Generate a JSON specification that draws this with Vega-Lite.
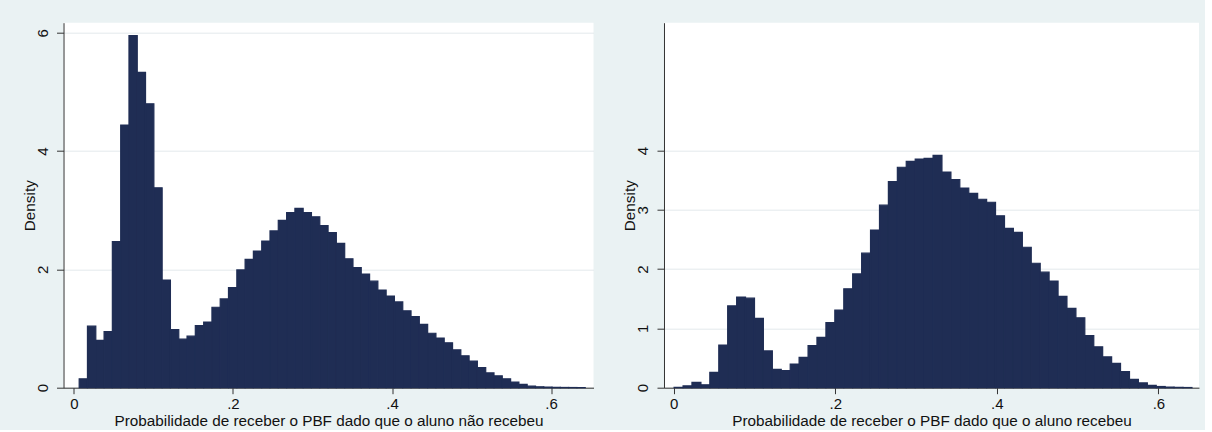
{
  "$schema": "https://vega.github.io/schema/vega-lite/v6.json",
  "background": "#eaf2f3",
  "padding": {"left": 21.5, "top": 22.7, "right": 5, "bottom": 0},
  "config": {
    "font": "Liberation Sans",
    "view": {"fill": "white", "stroke": null},
    "axis": {
      "labelFontSize": 15, "titleFontSize": 15.3, "labelColor": "#111", "titleColor": "#111",
      "titleFontWeight": "normal", "domainColor": "#333", "tickColor": "#333",
      "gridColor": "#e4e9ec", "gridWidth": 1, "labelFont": "Liberation Sans", "titleFont": "Liberation Sans"
    },
    "concat": {"spacing": 28.5}
  },
  "datasets": {
    "left": [
      {"x0": 0.0067, "x1": 0.0171, "d": 0.15},
      {"x0": 0.0171, "x1": 0.0276, "d": 1.04},
      {"x0": 0.0276, "x1": 0.0380, "d": 0.80},
      {"x0": 0.0380, "x1": 0.0484, "d": 0.95},
      {"x0": 0.0484, "x1": 0.0589, "d": 2.47},
      {"x0": 0.0589, "x1": 0.0693, "d": 4.44},
      {"x0": 0.0693, "x1": 0.0797, "d": 5.95},
      {"x0": 0.0797, "x1": 0.0901, "d": 5.33},
      {"x0": 0.0901, "x1": 0.1006, "d": 4.80},
      {"x0": 0.1006, "x1": 0.1110, "d": 3.38},
      {"x0": 0.1110, "x1": 0.1214, "d": 1.82},
      {"x0": 0.1214, "x1": 0.1319, "d": 0.98},
      {"x0": 0.1319, "x1": 0.1423, "d": 0.82},
      {"x0": 0.1423, "x1": 0.1527, "d": 0.87},
      {"x0": 0.1527, "x1": 0.1632, "d": 1.05},
      {"x0": 0.1632, "x1": 0.1736, "d": 1.11},
      {"x0": 0.1736, "x1": 0.1840, "d": 1.36},
      {"x0": 0.1840, "x1": 0.1944, "d": 1.50},
      {"x0": 0.1944, "x1": 0.2049, "d": 1.69},
      {"x0": 0.2049, "x1": 0.2153, "d": 1.99},
      {"x0": 0.2153, "x1": 0.2257, "d": 2.17},
      {"x0": 0.2257, "x1": 0.2362, "d": 2.31},
      {"x0": 0.2362, "x1": 0.2466, "d": 2.48},
      {"x0": 0.2466, "x1": 0.2570, "d": 2.65},
      {"x0": 0.2570, "x1": 0.2675, "d": 2.83},
      {"x0": 0.2675, "x1": 0.2779, "d": 2.96},
      {"x0": 0.2779, "x1": 0.2883, "d": 3.03},
      {"x0": 0.2883, "x1": 0.2987, "d": 2.96},
      {"x0": 0.2987, "x1": 0.3092, "d": 2.89},
      {"x0": 0.3092, "x1": 0.3196, "d": 2.74},
      {"x0": 0.3196, "x1": 0.3300, "d": 2.62},
      {"x0": 0.3300, "x1": 0.3405, "d": 2.44},
      {"x0": 0.3405, "x1": 0.3509, "d": 2.18},
      {"x0": 0.3509, "x1": 0.3613, "d": 2.03},
      {"x0": 0.3613, "x1": 0.3718, "d": 1.92},
      {"x0": 0.3718, "x1": 0.3822, "d": 1.80},
      {"x0": 0.3822, "x1": 0.3926, "d": 1.65},
      {"x0": 0.3926, "x1": 0.4030, "d": 1.55},
      {"x0": 0.4030, "x1": 0.4135, "d": 1.45},
      {"x0": 0.4135, "x1": 0.4239, "d": 1.30},
      {"x0": 0.4239, "x1": 0.4343, "d": 1.20},
      {"x0": 0.4343, "x1": 0.4448, "d": 1.07},
      {"x0": 0.4448, "x1": 0.4552, "d": 0.92},
      {"x0": 0.4552, "x1": 0.4656, "d": 0.84},
      {"x0": 0.4656, "x1": 0.4761, "d": 0.76},
      {"x0": 0.4761, "x1": 0.4865, "d": 0.64},
      {"x0": 0.4865, "x1": 0.4969, "d": 0.54},
      {"x0": 0.4969, "x1": 0.5073, "d": 0.45},
      {"x0": 0.5073, "x1": 0.5178, "d": 0.34},
      {"x0": 0.5178, "x1": 0.5282, "d": 0.25},
      {"x0": 0.5282, "x1": 0.5386, "d": 0.20},
      {"x0": 0.5386, "x1": 0.5491, "d": 0.15},
      {"x0": 0.5491, "x1": 0.5595, "d": 0.095},
      {"x0": 0.5595, "x1": 0.5699, "d": 0.056},
      {"x0": 0.5699, "x1": 0.5804, "d": 0.027},
      {"x0": 0.5804, "x1": 0.5908, "d": 0.015},
      {"x0": 0.5908, "x1": 0.6012, "d": 0.01},
      {"x0": 0.6012, "x1": 0.6116, "d": 0.006},
      {"x0": 0.6116, "x1": 0.6221, "d": 0.004},
      {"x0": 0.6221, "x1": 0.6325, "d": 0.003},
      {"x0": 0.6325, "x1": 0.6429, "d": 0.002}
    ],
    "right": [
      {"x0": 0.0006, "x1": 0.0117, "d": 0.005},
      {"x0": 0.0117, "x1": 0.0227, "d": 0.03},
      {"x0": 0.0227, "x1": 0.0338, "d": 0.09},
      {"x0": 0.0338, "x1": 0.0448, "d": 0.05},
      {"x0": 0.0448, "x1": 0.0559, "d": 0.26},
      {"x0": 0.0559, "x1": 0.0669, "d": 0.72},
      {"x0": 0.0669, "x1": 0.0780, "d": 1.38},
      {"x0": 0.0780, "x1": 0.0890, "d": 1.53},
      {"x0": 0.0890, "x1": 0.1001, "d": 1.51},
      {"x0": 0.1001, "x1": 0.1111, "d": 1.17},
      {"x0": 0.1111, "x1": 0.1222, "d": 0.62},
      {"x0": 0.1222, "x1": 0.1332, "d": 0.31},
      {"x0": 0.1332, "x1": 0.1443, "d": 0.29},
      {"x0": 0.1443, "x1": 0.1553, "d": 0.40},
      {"x0": 0.1553, "x1": 0.1664, "d": 0.51},
      {"x0": 0.1664, "x1": 0.1774, "d": 0.71},
      {"x0": 0.1774, "x1": 0.1885, "d": 0.85},
      {"x0": 0.1885, "x1": 0.1995, "d": 1.10},
      {"x0": 0.1995, "x1": 0.2106, "d": 1.31},
      {"x0": 0.2106, "x1": 0.2216, "d": 1.67},
      {"x0": 0.2216, "x1": 0.2327, "d": 1.92},
      {"x0": 0.2327, "x1": 0.2437, "d": 2.27},
      {"x0": 0.2437, "x1": 0.2548, "d": 2.66},
      {"x0": 0.2548, "x1": 0.2658, "d": 3.08},
      {"x0": 0.2658, "x1": 0.2769, "d": 3.48},
      {"x0": 0.2769, "x1": 0.2879, "d": 3.72},
      {"x0": 0.2879, "x1": 0.2990, "d": 3.82},
      {"x0": 0.2990, "x1": 0.3100, "d": 3.86},
      {"x0": 0.3100, "x1": 0.3211, "d": 3.87},
      {"x0": 0.3211, "x1": 0.3321, "d": 3.92},
      {"x0": 0.3321, "x1": 0.3432, "d": 3.64},
      {"x0": 0.3432, "x1": 0.3542, "d": 3.51},
      {"x0": 0.3542, "x1": 0.3653, "d": 3.37},
      {"x0": 0.3653, "x1": 0.3763, "d": 3.28},
      {"x0": 0.3763, "x1": 0.3874, "d": 3.18},
      {"x0": 0.3874, "x1": 0.3984, "d": 3.13},
      {"x0": 0.3984, "x1": 0.4095, "d": 2.90},
      {"x0": 0.4095, "x1": 0.4205, "d": 2.69},
      {"x0": 0.4205, "x1": 0.4316, "d": 2.62},
      {"x0": 0.4316, "x1": 0.4426, "d": 2.37},
      {"x0": 0.4426, "x1": 0.4537, "d": 2.10},
      {"x0": 0.4537, "x1": 0.4647, "d": 1.95},
      {"x0": 0.4647, "x1": 0.4758, "d": 1.80},
      {"x0": 0.4758, "x1": 0.4868, "d": 1.54},
      {"x0": 0.4868, "x1": 0.4979, "d": 1.34},
      {"x0": 0.4979, "x1": 0.5089, "d": 1.18},
      {"x0": 0.5089, "x1": 0.5200, "d": 0.88},
      {"x0": 0.5200, "x1": 0.5310, "d": 0.69},
      {"x0": 0.5310, "x1": 0.5421, "d": 0.52},
      {"x0": 0.5421, "x1": 0.5531, "d": 0.41},
      {"x0": 0.5531, "x1": 0.5642, "d": 0.27},
      {"x0": 0.5642, "x1": 0.5752, "d": 0.14},
      {"x0": 0.5752, "x1": 0.5863, "d": 0.08},
      {"x0": 0.5863, "x1": 0.5973, "d": 0.04},
      {"x0": 0.5973, "x1": 0.6084, "d": 0.02},
      {"x0": 0.6084, "x1": 0.6194, "d": 0.01},
      {"x0": 0.6194, "x1": 0.6305, "d": 0.005},
      {"x0": 0.6305, "x1": 0.6415, "d": 0.003}
    ]
  },
  "hconcat": [
    {
      "width": 530,
      "height": 365,
      "data": {"name": "left"},
      "mark": {"type": "rect", "color": "#1f2d54", "stroke": "#1f2d54", "strokeWidth": 1.2},
      "encoding": {
        "x": {
          "field": "x0", "type": "quantitative",
          "scale": {"domain": [-0.013, 0.6533], "nice": false, "zero": false},
          "axis": {
            "values": [0, 0.2, 0.4, 0.6],
            "labelExpr": "datum.value == 0 ? '0' : replace(format(datum.value, '.1f'), '0.', '.')",
            "title": "Probabilidade de receber o PBF dado que o aluno não recebeu",
            "grid": false, "tickSize": 6, "labelPadding": 3, "titlePadding": 2
          }
        },
        "x2": {"field": "x1"},
        "y": {
          "field": "d", "type": "quantitative",
          "scale": {"domain": [0, 6.17], "nice": false},
          "axis": {
            "values": [0, 2, 4, 6],
            "labelAngle": 270, "labelAlign": "center", "labelBaseline": "bottom",
            "tickSize": 7, "labelPadding": 6,
            "minExtent": 26, "maxExtent": 26,
            "title": "Density", "titlePadding": 0.5
          }
        },
        "y2": {"datum": 0}
      }
    },
    {
      "width": 535,
      "height": 365,
      "data": {"name": "right"},
      "mark": {"type": "rect", "color": "#1f2d54", "stroke": "#1f2d54", "strokeWidth": 1.2},
      "encoding": {
        "x": {
          "field": "x0", "type": "quantitative",
          "scale": {"domain": [-0.0119, 0.6502], "nice": false, "zero": false},
          "axis": {
            "values": [0, 0.2, 0.4, 0.6],
            "labelExpr": "datum.value == 0 ? '0' : replace(format(datum.value, '.1f'), '0.', '.')",
            "title": "Probabilidade de receber o PBF dado que o aluno recebeu",
            "grid": false, "tickSize": 6, "labelPadding": 3, "titlePadding": 2
          }
        },
        "x2": {"field": "x1"},
        "y": {
          "field": "d", "type": "quantitative",
          "scale": {"domain": [0, 6.16], "nice": false},
          "axis": {
            "values": [0, 1, 2, 3, 4],
            "labelAngle": 270, "labelAlign": "center", "labelBaseline": "bottom",
            "tickSize": 7, "labelPadding": 6,
            "minExtent": 26, "maxExtent": 26,
            "title": "Density", "titlePadding": 0.5
          }
        },
        "y2": {"datum": 0}
      }
    }
  ]
}
